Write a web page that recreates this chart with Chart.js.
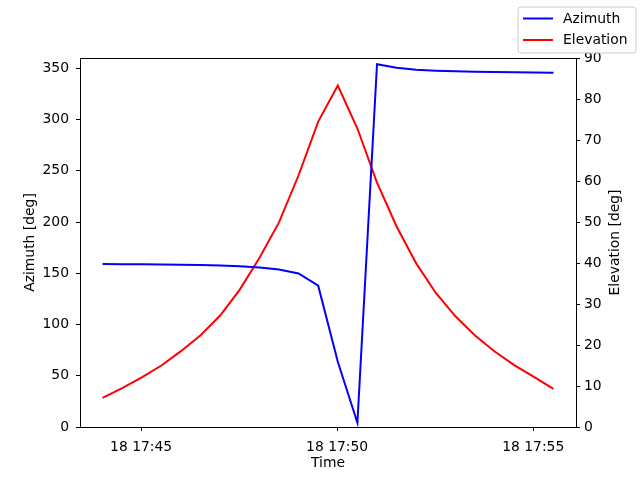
<!DOCTYPE html>
<html>
<head>
<meta charset="utf-8">
<script src="https://cdn.jsdelivr.net/npm/chart.js@4/dist/chart.umd.min.js"></script>
<style>
  html, body { margin: 0; padding: 0; background: #fff; }
  #wrap { width: 640px; height: 480px; }
</style>
</head>
<body>
<div id="wrap"><canvas id="orbitChart" width="640" height="480"></canvas></div>
<script>
// sample times (day 18)
const TIMES = ['17:44:01', '17:44:31', '17:45:01', '17:45:31', '17:46:01', '17:46:31',
    '17:47:01', '17:47:31', '17:48:01', '17:48:31', '17:49:01', '17:49:31',
    '17:50:01', '17:50:31', '17:51:01', '17:51:31', '17:52:01', '17:52:31',
    '17:53:01', '17:53:31', '17:54:01', '17:54:31', '17:55:01', '17:55:31'];
const AZIMUTH = [159.1, 158.9, 158.7, 158.5, 158.3, 158.0, 157.5, 156.8, 155.6, 153.7, 149.8, 137.8,
    63.7, 4.2, 353.9, 350.6, 348.6, 347.6, 347.0, 346.6, 346.3, 346.0, 345.8, 345.6];
const ELEVATION = [7.1, 9.5, 12.1, 15.0, 18.5, 22.4, 27.2, 33.5, 41.2, 49.9, 61.4, 74.5,
    83.3, 72.8, 59.6, 48.9, 39.9, 32.7, 27.0, 22.3, 18.4, 15.1, 12.2, 9.3];
const X_TICKS = ['17:45:00', '17:50:00', '17:55:00'];
const AZ_TICKS = [0, 50, 100, 150, 200, 250, 300, 350];
const EL_TICKS = [0, 10, 20, 30, 40, 50, 60, 70, 80, 90];

const FONT = { family: "'DejaVu Sans', sans-serif", size: 13.9 };

function toSec(t) {
    const p = t.split(':').map(Number);
    return p[0] * 3600 + p[1] * 60 + p[2];
}
function fmtTime(sec) {
    const h = Math.floor(sec / 3600);
    const m = Math.floor((sec % 3600) / 60);
    return '18 ' + h + ':' + String(m).padStart(2, '0');
}

const xs = TIMES.map(toSec);
const span = xs[xs.length - 1] - xs[0];
const xMin = xs[0] - span * 0.05;
const xMax = xs[xs.length - 1] + span * 0.05;

// frame around the plot, right axis title (reads upward) and legend box
const framePlugin = {
    id: 'frame',
    afterDraw(chart) {
        const ctx = chart.ctx;
        const a = chart.chartArea;
        ctx.save();
        ctx.strokeStyle = '#000';
        ctx.lineWidth = 1;
        ctx.strokeRect(Math.round(a.left) + 0.5, Math.round(a.top) + 0.5,
            Math.round(a.right - a.left), Math.round(a.bottom - a.top));

        ctx.font = FONT.size + 'px ' + FONT.family;
        ctx.fillStyle = '#000';
        ctx.save();
        ctx.translate(615, (a.top + a.bottom) / 2);
        ctx.rotate(-Math.PI / 2);
        ctx.textAlign = 'center';
        ctx.textBaseline = 'middle';
        ctx.fillText('Elevation [deg]', 0, 0);
        ctx.restore();

        // legend
        const bx = 518, by = 7, bw = 118, bh = 46, r = 3;
        ctx.beginPath();
        ctx.moveTo(bx + r, by);
        ctx.arcTo(bx + bw, by, bx + bw, by + bh, r);
        ctx.arcTo(bx + bw, by + bh, bx, by + bh, r);
        ctx.arcTo(bx, by + bh, bx, by, r);
        ctx.arcTo(bx, by, bx + bw, by, r);
        ctx.closePath();
        ctx.fillStyle = 'rgba(255,255,255,0.8)';
        ctx.fill();
        ctx.strokeStyle = '#cccccc';
        ctx.stroke();
        ctx.textBaseline = 'middle';
        chart.data.datasets.forEach((ds, i) => {
            const y = by + 11.5 + i * 21.5;
            ctx.strokeStyle = ds.borderColor;
            ctx.lineWidth = 2;
            ctx.beginPath();
            ctx.moveTo(523, y);
            ctx.lineTo(553, y);
            ctx.stroke();
            ctx.fillStyle = '#000';
            ctx.fillText(ds.label, 563, y + 0.5);
        });
        ctx.restore();
    }
};

const tickGrid = { display: true, drawOnChartArea: false, drawTicks: true, tickLength: 4, color: '#000', tickWidth: 1 };

new Chart(document.getElementById('orbitChart'), {
    type: 'line',
    data: {
        datasets: [
            {
                label: 'Azimuth',
                data: xs.map((x, i) => ({ x: x, y: AZIMUTH[i] })),
                borderColor: '#0000ff',
                backgroundColor: '#0000ff',
                borderWidth: 2,
                pointRadius: 0,
                tension: 0,
                yAxisID: 'yAz'
            },
            {
                label: 'Elevation',
                data: xs.map((x, i) => ({ x: x, y: ELEVATION[i] })),
                borderColor: '#ff0000',
                backgroundColor: '#ff0000',
                borderWidth: 2,
                pointRadius: 0,
                tension: 0,
                yAxisID: 'yEl'
            }
        ]
    },
    options: {
        responsive: false,
        animation: false,
        devicePixelRatio: 1,
        layout: { padding: { top: 58, left: 0, right: 0, bottom: 0 } },
        plugins: {
            legend: { display: false },
            tooltip: { enabled: false }
        },
        scales: {
            x: {
                type: 'linear',
                min: xMin,
                max: xMax,
                grid: tickGrid,
                border: { display: true, color: '#000', width: 1 },
                afterBuildTicks: s => { s.ticks = X_TICKS.map(t => ({ value: toSec(t) })); },
                afterFit: s => { s.height = 53; },
                ticks: {
                    color: '#000',
                    font: FONT,
                    padding: 8,
                    maxRotation: 0,
                    autoSkip: false,
                    callback: v => fmtTime(v)
                },
                title: { display: true, text: 'Time', color: '#000', font: FONT, padding: { top: 0, bottom: 8 } }
            },
            yAz: {
                type: 'linear',
                position: 'left',
                min: 0,
                max: 360,
                grid: tickGrid,
                border: { display: true, color: '#000', width: 1 },
                afterBuildTicks: s => { s.ticks = AZ_TICKS.map(v => ({ value: v })); },
                afterFit: s => { s.width = 80; },
                ticks: { color: '#000', font: FONT, padding: 7, autoSkip: false },
                title: { display: true, text: 'Azimuth [deg]', color: '#000', font: FONT, padding: { top: 22, bottom: 0 } }
            },
            yEl: {
                type: 'linear',
                position: 'right',
                min: 0,
                max: 90,
                grid: tickGrid,
                border: { display: true, color: '#000', width: 1 },
                afterBuildTicks: s => { s.ticks = EL_TICKS.map(v => ({ value: v })); },
                afterFit: s => { s.width = 64; },
                ticks: { color: '#000', font: FONT, padding: 4, autoSkip: false }
            }
        }
    },
    plugins: [framePlugin]
});
</script>
</body>
</html>
